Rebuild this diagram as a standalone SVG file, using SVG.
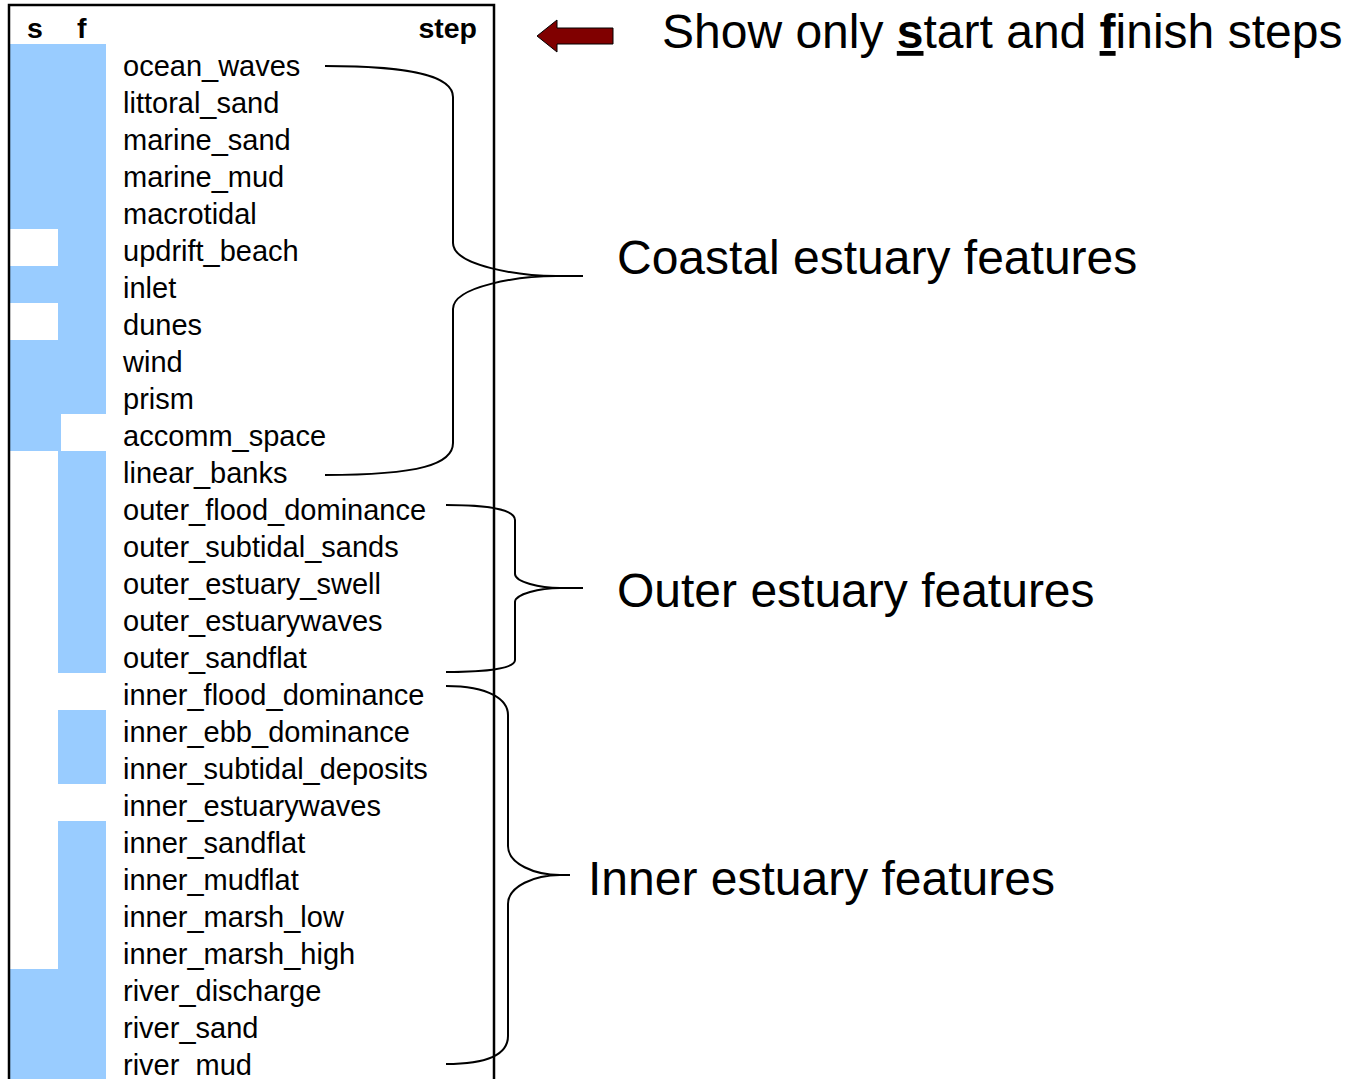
<svg xmlns="http://www.w3.org/2000/svg" width="1348" height="1079" viewBox="0 0 1348 1079">
<style>
.cell{fill:#99CCFF}
.row{font-family:"Liberation Sans",Arial,sans-serif;font-size:29px;fill:#000}
.hdr{font-family:"Liberation Sans",Arial,sans-serif;font-size:28.5px;font-weight:bold;fill:#000}
.big{font-family:"Liberation Sans",Arial,sans-serif;font-size:48px;fill:#000}
.brace{fill:none;stroke:#000;stroke-width:2}
.frame{fill:none;stroke:#000;stroke-width:2.5}
</style>
<rect width="1348" height="1079" fill="#fff"/>
<g id="cells">
<rect class="cell" x="10" y="44" width="48" height="185"/>
<rect class="cell" x="10" y="266" width="48" height="37"/>
<rect class="cell" x="10" y="340" width="51" height="111"/>
<rect class="cell" x="10" y="969" width="48" height="111"/>
<rect class="cell" x="58" y="44" width="48" height="370"/>
<rect class="cell" x="58" y="451" width="48" height="222"/>
<rect class="cell" x="58" y="710" width="48" height="74"/>
<rect class="cell" x="58" y="821" width="48" height="259"/>
</g>
<g id="table">
<path class="frame" d="M9,1080 V5 H494 V1080"/>
<text class="hdr" x="27" y="38">s</text>
<text class="hdr" x="77" y="38">f</text>
<text class="hdr" x="477" y="38" text-anchor="end">step</text>
<g class="row" transform="translate(0,1.5)">
<text x="123" y="74">ocean_waves</text>
<text x="123" y="111">littoral_sand</text>
<text x="123" y="148">marine_sand</text>
<text x="123" y="185">marine_mud</text>
<text x="123" y="222">macrotidal</text>
<text x="123" y="259">updrift_beach</text>
<text x="123" y="296">inlet</text>
<text x="123" y="333">dunes</text>
<text x="123" y="370">wind</text>
<text x="123" y="407">prism</text>
<text x="123" y="444">accomm_space</text>
<text x="123" y="481">linear_banks</text>
<text x="123" y="518">outer_flood_dominance</text>
<text x="123" y="555">outer_subtidal_sands</text>
<text x="123" y="592">outer_estuary_swell</text>
<text x="123" y="629">outer_estuarywaves</text>
<text x="123" y="666">outer_sandflat</text>
<text x="123" y="703">inner_flood_dominance</text>
<text x="123" y="740">inner_ebb_dominance</text>
<text x="123" y="777">inner_subtidal_deposits</text>
<text x="123" y="814">inner_estuarywaves</text>
<text x="123" y="851">inner_sandflat</text>
<text x="123" y="888">inner_mudflat</text>
<text x="123" y="925">inner_marsh_low</text>
<text x="123" y="962">inner_marsh_high</text>
<text x="123" y="999">river_discharge</text>
<text x="123" y="1036">river_sand</text>
<text x="123" y="1073">river_mud</text>
</g>
</g>
<g id="connectors">
<path class="brace" d="M325,66 C420,66 453,78 453,97 L453,243 C453,266 520,276 556,276 L583,276 M556,276 C520,276 453,286 453,309 L453,443 C453,464 420,475 325,475"/>
<path class="brace" d="M446,505 C490,505 515,510 515,520 L515,574 C515,582 540,588 560,588 L583,588 M560,588 C540,588 515,594 515,602 L515,660 C515,668 490,672 446,672"/>
<path class="brace" d="M446,686 C490,686 508,700 508,715 L508,846 C508,864 535,875 560,875 L570,875 M560,875 C535,875 508,886 508,904 L508,1036 C508,1054 490,1064 446,1064"/>
</g>
<g id="arrow">
<polygon points="537,36 557,20 557,28 613,28 613,44 557,44 557,52" fill="#800000" stroke="#000" stroke-width="1"/>
</g>
<g id="labels">
<text class="big" x="662" y="48">Show only <tspan font-weight="bold" text-decoration="underline">s</tspan>tart and <tspan font-weight="bold" text-decoration="underline">f</tspan>inish steps</text>
<text class="big" x="617" y="274">Coastal estuary features</text>
<text class="big" x="617" y="607">Outer estuary features</text>
<text class="big" x="588" y="895">Inner estuary features</text>
</g>
</svg>
